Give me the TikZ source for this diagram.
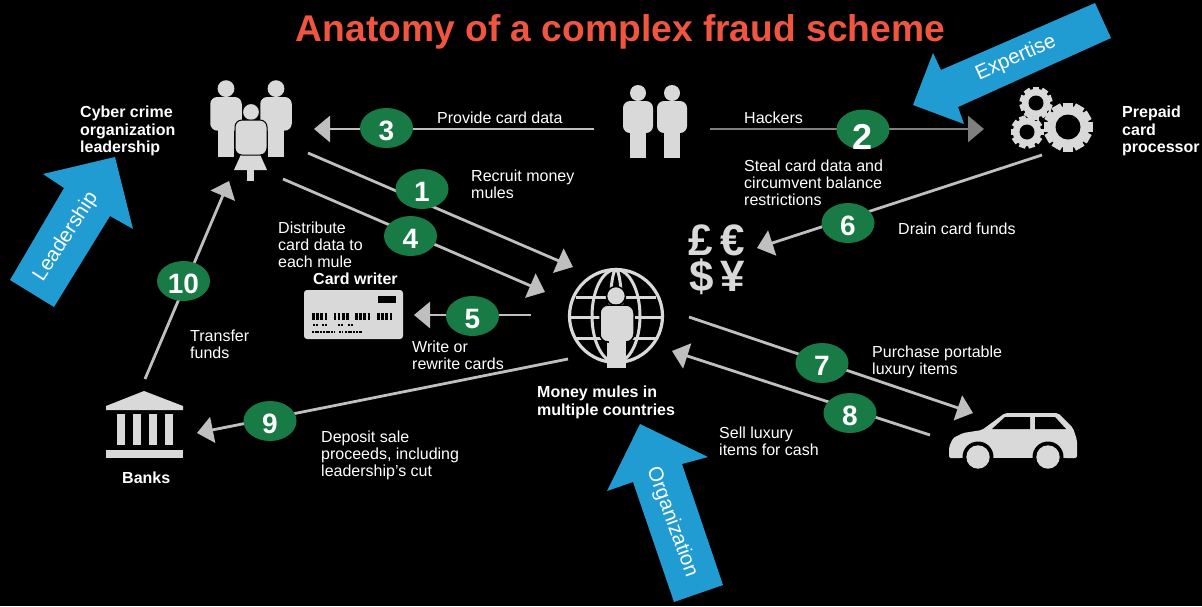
\documentclass[tikz,border=0pt]{standalone}
\usepackage{fontspec}
\setmainfont{Liberation Sans}
\usetikzlibrary{arrows.meta,shapes.geometric}
\definecolor{iconfill}{HTML}{D9D9D9}
\definecolor{linegray}{HTML}{BFBFBF}
\definecolor{darkline}{HTML}{7F7F7F}
\definecolor{badgegreen}{HTML}{187A44}
\definecolor{arrowblue}{HTML}{209CD2}
\definecolor{titlered}{HTML}{F0563F}
\tikzset{
  link/.style={line width=2.8pt,linegray,-{Triangle[length=16pt,width=26pt]}},
  badge/.style={ellipse,fill=badgegreen,text=white,inner sep=0pt,minimum width=53pt,minimum height=40pt,text height=24pt,text depth=0pt,font=\fontsize{28}{29}\selectfont\bfseries},
  caption/.style={anchor=north west,align=left,inner sep=0pt,text=white,font=\fontsize{16}{17}\selectfont},
  boldcaption/.style={caption,font=\fontsize{16}{17.5}\selectfont\bfseries},
  bluearrow/.style={fill=arrowblue},
  bluetext/.style={text=white,inner sep=0pt,font=\fontsize{20.5}{22}\selectfont},
  money/.style={text=iconfill,inner sep=0pt,text height=32pt,text depth=0pt,font=\fontsize{44}{44}\selectfont\bfseries},
  person/.pic={
    \fill[iconfill] (0,-8) circle (8pt);
    \fill[iconfill,rounded corners=7pt] (-15,0) rectangle (15,32);
    \fill[iconfill] (-8,20) rectangle (8,57);
  }
}
\newcommand{\gearicon}[5]{
  \fill[iconfill] (#1,#2) circle ({0.86*#3*1pt});
  \foreach \a in {#5} {
    \fill[iconfill,shift={(#1,#2)},rotate=\a] ({-0.2*#3},0) rectangle ({0.2*#3},{#3});
  }
  \fill[black] (#1,#2) circle (#4pt);
}
\begin{document}
\begin{tikzpicture}[x=1pt,y=-1pt]
  \useasboundingbox (0,0) rectangle (1202,606);
  \fill[black] (0,0) rectangle (1202,606);

  \node[text=titlered,inner sep=0pt,anchor=base,font=\fontsize{37.2}{38}\selectfont\bfseries] (title) at (620.5,41) {Anatomy of a complex fraud scheme};

  \pic at (226,97) [scale=1.05] {person};
  \pic at (276,97) [scale=1.05] {person};
  \fill[iconfill,draw=black,line width=1pt] (251,112) circle (8.5pt);
  \fill[iconfill] (243,150) -- (234,170) -- (267,170) -- (258,150) -- cycle;
  \fill[iconfill] (247,168) rectangle (254,181);
  \fill[iconfill,draw=black,line width=1pt,rounded corners=7pt] (235,120) rectangle (267,155);

  \pic at (638,101) {person};
  \pic at (672,101) {person};

  \gearicon{1068}{127}{24.5}{12.5}{0,30,...,330}
  \gearicon{1036}{103}{16.5}{7.5}{0,36,...,324}
  \gearicon{1027}{132}{16.5}{7.5}{18,54,...,342}

  \node[money] (pound) at (701,239) {£};
  \node[money,right of=pound,node distance=32pt] (euro) {€};
  \node[money,below of=pound,node distance=36pt,xshift=1pt] (dollar) {\$};
  \node[money,right of=dollar,node distance=31pt] (yen) {¥};

  \fill[iconfill,rounded corners=3pt] (304,290) rectangle (403,339);
  \fill[black] (378,296) rectangle (396,303);
  \foreach \x in {312,333.5,355,377} {
    \draw[black,line width=7pt,dash pattern=on 2.6pt off 1.6pt] (\x,316.5) -- +(16.4,0);
  }
  \draw[black,line width=2pt,dash pattern=on 2pt off 1pt] (313,325) -- (319,325) (322,325) -- (327,325) (338,325) -- (344,325) (348,325) -- (353,325);
  \draw[black,line width=2pt,dash pattern=on 2pt off 0.7pt] (312,332) -- (335,332) (339,332) -- (342,332) (345,332) -- (362,332);

  \draw[iconfill,line width=3.2pt] (616,316) circle (46.5pt);
  \draw[iconfill,line width=3pt] (616,316) ellipse (24pt and 46.5pt);
  \draw[iconfill,line width=3pt] (616,316) ellipse (6pt and 46.5pt);
  \draw[iconfill,line width=3pt] (576,297) -- (656,297) (570,317) -- (662,317) (576,338) -- (656,338);
  \fill[iconfill,draw=black,line width=1.5pt] (616,296) circle (9.5pt);
  \fill[iconfill] (607,335) rectangle (626,368);
  \fill[iconfill,draw=black,line width=1.5pt,rounded corners=8pt] (600,305) rectangle (634,342);
  \fill[iconfill] (608.5,335) rectangle (625.5,368);

  \fill[iconfill] (106,410) -- (106,406) -- (144,391) -- (183,406) -- (183,410) -- cycle;
  \foreach \x in {117,133,149,165} {
    \fill[iconfill] (\x,414) rectangle +(8,31);
  }
  \fill[iconfill] (106,450) rectangle (183,458);

  \fill[iconfill,rounded corners=2pt] (949,458) -- (949,447) -- (953,438) -- (963,433) -- (982,430) -- (1005,413) -- (1058,413) -- (1073,428) -- (1077,440) -- (1077,458) -- cycle;
  \fill[black] (992,429) -- (1005,417) -- (1030,417) -- (1030,429) -- cycle;
  \fill[black] (1035,417) -- (1055,417) -- (1066,429) -- (1035,429) -- cycle;
  \fill[black] (978,457) circle (15.5pt);
  \fill[black] (1048,457) circle (15.5pt);
  \fill[black] (960,458) rectangle (1066,470);
  \fill[iconfill] (978,457) circle (11.7pt);
  \fill[iconfill] (1048,457) circle (11.7pt);

  \coordinate (c1a) at (308,153);
  \coordinate (c1b) at (573,267);
  \coordinate (c2a) at (710,129);
  \coordinate (c2b) at (984,129);
  \coordinate (c3a) at (594,129);
  \coordinate (c3b) at (314,129);
  \coordinate (c4a) at (283,179);
  \coordinate (c4b) at (545,292);
  \coordinate (c5a) at (531,315);
  \coordinate (c5b) at (414,315);
  \coordinate (c6a) at (1042,155);
  \coordinate (c6b) at (757,248);
  \coordinate (c7a) at (689,317);
  \coordinate (c7b) at (973,413);
  \coordinate (c8a) at (930,435);
  \coordinate (c8b) at (672,351);
  \coordinate (c9a) at (568,359);
  \coordinate (c9b) at (197,433);
  \coordinate (c10a) at (145,379);
  \coordinate (c10b) at (229,181);

  \draw[link] (c1a) -- (c1b);
  \draw[link,darkline] (c2a) -- (c2b);
  \draw[link] (c3a) -- (c3b);
  \draw[link] (c4a) -- (c4b);
  \draw[link] (c5a) -- (c5b);
  \draw[link] (c6a) -- (c6b);
  \draw[link] (c7a) -- (c7b);
  \draw[link] (c8a) -- (c8b);
  \draw[link] (c9a) -- (c9b);
  \draw[link] (c10a) -- (c10b);

  \node[badge] (n1) at (422,189) {1};
  \node[badge,font=\fontsize{36}{36}\selectfont\bfseries] (n2) at (863,129.5) {\smash{\raisebox{-8pt}{2}}};
  \node[badge] (n3) at (386.5,128) {3};
  \node[badge] (n4) at (410.5,236) {4};
  \node[badge] (n5) at (472.5,316) {5};
  \node[badge] (n6) at (848,223) {6};
  \node[badge] (n7) at (822,363) {7};
  \node[badge] (n8) at (850,413) {8};
  \node[badge] (n9) at (270,421) {9};
  \node[badge] (n10) at (183.5,281) {10};

  \fill[bluearrow] (10,280) -- (54,307) -- (110,216) -- (133,229) -- (115,157) -- (43,174) -- (64,188) -- cycle;
  \fill[bluearrow] (1095,3) -- (1111,38) -- (958,107) -- (964,124) -- (913,105) -- (933,53) -- (941,70) -- cycle;
  \fill[bluearrow] (640,424) -- (708,457) -- (682,464) -- (723,585) -- (674,602) -- (633,482) -- (607,491) -- cycle;

  \node[bluetext,rotate=57] (leadership) at (66,237) {Leadership};
  \node[bluetext,rotate=24] (expertise) at (1016,58) {Expertise};
  \node[bluetext,rotate=-70] (organization) at (672,522) {Organization};

  \node[boldcaption] (lead) at (80,106) {Cyber crime\\organization\\leadership};
  \node[boldcaption] (proc) at (1122,106) {Prepaid\\card\\processor};
  \node[boldcaption] (writer) at (313,273) {Card writer};
  \node[boldcaption] (mules) at (537,386) {Money mules in\\multiple countries};
  \node[boldcaption] (banks) at (122,472) {Banks};

  \node[caption] (t3) at (437,112) {Provide card data};
  \node[caption] (t2) at (744,112) {Hackers};
  \node[caption] (s2) at (744,160) {Steal card data and\\circumvent balance\\restrictions};
  \node[caption] (t1) at (471,170) {Recruit money\\mules};
  \node[caption] (t4) at (278,222) {Distribute\\card data to\\each mule};
  \node[caption] (t6) at (898,223) {Drain card funds};
  \node[caption] (t10) at (190,330) {Transfer\\funds};
  \node[caption] (t5) at (412,341) {Write or\\rewrite cards};
  \node[caption] (t7) at (872,346) {Purchase portable\\luxury items};
  \node[caption] (t8) at (719,427) {Sell luxury\\items for cash};
  \node[caption] (t9) at (321,431) {Deposit sale\\proceeds, including\\leadership’s cut};
\end{tikzpicture}
\end{document}
